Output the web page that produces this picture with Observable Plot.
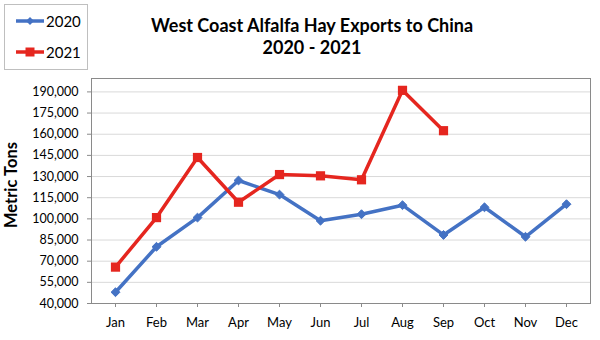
<!DOCTYPE html>
<html>
<head>
<meta charset="utf-8">
<script src="https://cdn.jsdelivr.net/npm/d3@7"></script>
<script src="https://cdn.jsdelivr.net/npm/@observablehq/plot@0.6"></script>
<style>
  html, body { margin: 0; padding: 0; background: #fff; }
  #wrap { position: relative; width: 600px; height: 340px; font-family: Lato, "Open Sans", sans-serif; }
  #legend { position: absolute; left: 4px; top: 4px; width: 84px; height: 66px; border: 1px solid #bfbfbf; box-sizing: border-box; background: #fff; }
  .li { position: absolute; left: 10px; display: flex; align-items: center; font-size: 15px; color: #000; }
  .li svg { display: block; margin-right: 1px; }
</style>
</head>
<body>
<div id="wrap"></div>
<script>
const months = ["Jan","Feb","Mar","Apr","May","Jun","Jul","Aug","Sep","Oct","Nov","Dec"];
const values2020 = [48000, 80200, 100900, 127200, 117200, 98700, 103300, 109700, 88600, 108200, 87300, 110400];
const values2021 = [65800, 100900, 143500, 111800, 131400, 130500, 127700, 191100, 162500];
const yTicks = [40000, 55000, 70000, 85000, 100000, 115000, 130000, 145000, 160000, 175000, 190000];
const titleLines = ["West Coast Alfalfa Hay Exports to China", "2020 - 2021"];
const seriesNames = ["2020", "2021"];
const colors = ["#4472C4", "#E5261F"];

const d2020 = months.map((m, i) => ({month: m, value: values2020[i]}));
const d2021 = values2021.map((v, i) => ({month: months[i], value: v}));

const chart = Plot.plot({
  width: 600,
  height: 340,
  marginLeft: 91,
  marginRight: 10,
  marginTop: 78,
  marginBottom: 37,
  style: {fontFamily: "Lato, 'Open Sans', sans-serif", fontSize: "12px", color: "#000", background: "#fff", overflow: "visible"},
  x: {type: "point", domain: months, padding: 0.5},
  y: {domain: [40000, 199500]},
  marks: [
    Plot.ruleY(yTicks.slice(1), {stroke: "#d9d9d9", strokeWidth: 1}),
    Plot.frame({stroke: "#8a8a8a", strokeWidth: 1}),
    Plot.axisY({ticks: yTicks, tickFormat: d3.format(","), tickSize: 4, tickPadding: 9, stroke: "#8a8a8a", label: null, fontSize: 12.5}),
    Plot.axisX({tickSize: 4, tickPadding: 10, stroke: "#8a8a8a", label: null, fontSize: 13}),
    Plot.line(d2020, {x: "month", y: "value", stroke: colors[0], strokeWidth: 3.5}),
    Plot.dot(d2020, {x: "month", y: "value", symbol: "diamond2", r: 4, fill: colors[0], stroke: colors[0], strokeWidth: 1}),
    Plot.line(d2021, {x: "month", y: "value", stroke: colors[1], strokeWidth: 3.5}),
    Plot.dot(d2021, {x: "month", y: "value", symbol: "square", r: 5.2, fill: colors[1]}),
    Plot.text([titleLines[0]], {frameAnchor: "top", dx: -29, dy: -52, lineAnchor: "middle", fontSize: 18, fontWeight: "bold", fill: "#000"}),
    Plot.text([titleLines[1]], {frameAnchor: "top", dx: -29, dy: -30, lineAnchor: "middle", fontSize: 18, fontWeight: "bold", fill: "#000"}),
    Plot.text(["Metric Tons"], {frameAnchor: "left", textAnchor: "middle", dx: -80, dy: -6, rotate: -90, fontSize: 16.5, fontWeight: "bold", fill: "#000"})
  ]
});

const wrap = document.getElementById("wrap");
wrap.appendChild(chart);

const legend = document.createElement("div");
legend.id = "legend";
const syms = ["diamond", "square"];
seriesNames.forEach((name, i) => {
  const item = document.createElement("div");
  item.className = "li";
  item.style.top = (i === 0 ? 6 : 37) + "px";
  const ns = "http://www.w3.org/2000/svg";
  const svg = document.createElementNS(ns, "svg");
  svg.setAttribute("width", 30);
  svg.setAttribute("height", 20);
  const line = document.createElementNS(ns, "line");
  line.setAttribute("x1", 1); line.setAttribute("x2", 29);
  line.setAttribute("y1", 10); line.setAttribute("y2", 10);
  line.setAttribute("stroke", colors[i]); line.setAttribute("stroke-width", 3.5);
  svg.appendChild(line);
  const path = document.createElementNS(ns, "path");
  path.setAttribute("d", syms[i] === "diamond" ? "M15,6L19,10L15,14L11,10Z" : "M10.5,5.5H19.5V14.5H10.5Z");
  path.setAttribute("fill", colors[i]);
  svg.appendChild(path);
  item.appendChild(svg);
  const label = document.createElement("span");
  label.textContent = name;
  item.appendChild(label);
  legend.appendChild(item);
});
wrap.appendChild(legend);
</script>
</body>
</html>
